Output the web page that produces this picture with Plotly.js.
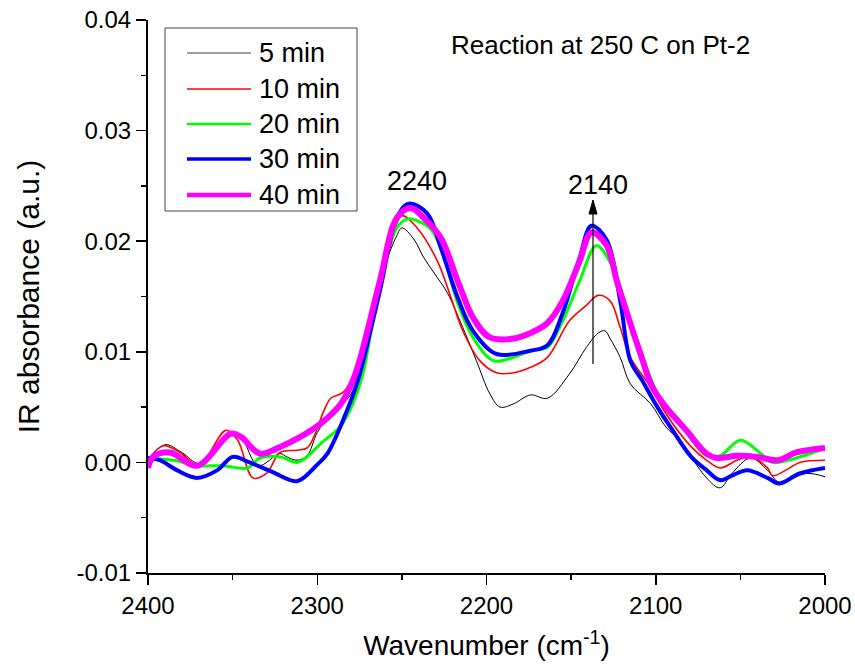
<!DOCTYPE html>
<html>
<head>
<meta charset="utf-8">
<script src="https://cdn.plot.ly/plotly-3.0.1.min.js"></script>
<style>html,body{margin:0;padding:0;background:#fff;}#chart{width:855px;height:664px;}</style>
</head>
<body>
<div id="chart"></div>
<script>
// ---- data ----
const seriesNames = ["5 min", "10 min", "20 min", "30 min", "40 min"];

const wn5  = [2400,2390,2380,2370,2360,2352,2345,2335,2322,2318,2312,2306,2300,2292,2283,2279,2270,2260,2253,2250,2243,2237,2229,2223,2214,2206,2198,2192,2184,2174,2164,2151,2141,2134,2130,2127,2121,2115,2103,2094,2086,2070,2062,2055,2044,2034,2027,2011,2000];
const abs5 = [0.0002,0.0016,0.0009,-0.0001,0.0011,0.0027,0.0023,-0.0003,0.0008,0.0005,0.0002,0.0006,0.0027,0.0044,0.0056,0.0065,0.0119,0.0178,0.0205,0.0212,0.0202,0.0185,0.0167,0.0153,0.0122,0.0092,0.0062,0.0050,0.0053,0.0061,0.0058,0.0080,0.0104,0.0117,0.0119,0.0112,0.0095,0.0071,0.0053,0.0032,0.0020,-0.0014,-0.0023,-0.0010,0.0004,-0.0007,-0.0018,-0.0010,-0.0013];

const wn10  = [2400,2391,2381,2370,2354,2347,2338,2330,2322,2312,2306,2302,2296,2292,2285,2280,2267,2257,2250,2241,2229,2221,2214,2204,2194,2184,2174,2164,2151,2141,2134,2127,2121,2115,2103,2094,2079,2070,2062,2052,2044,2034,2031,2023,2015,2000];
const abs10 = [0.0002,0.0015,0.0009,-0.0003,0.0029,0.0020,-0.0014,-0.0010,0.0009,0.0011,0.0013,0.0023,0.0047,0.0058,0.0063,0.0074,0.0135,0.0194,0.0223,0.0212,0.0182,0.0149,0.0119,0.0092,0.0081,0.0081,0.0086,0.0095,0.0128,0.0142,0.0151,0.0146,0.0122,0.0095,0.0068,0.0044,0.0014,0.0002,-0.0005,0.0002,0.0005,-0.0005,-0.0012,-0.0007,0.0000,0.0002];

const wn20  = [2400,2397,2385,2371,2356,2341,2334,2322,2312,2306,2298,2286,2279,2273,2263,2253,2247,2240,2233,2227,2217,2208,2196,2184,2174,2164,2155,2145,2135,2125,2115,2096,2086,2080,2070,2062,2050,2038,2031,2017,2000];
const abs20 = [-0.0005,0.0002,0.0002,-0.0003,-0.0003,-0.0005,0.0004,0.0005,0.0000,0.0005,0.0017,0.0033,0.0053,0.0080,0.0164,0.0212,0.0220,0.0218,0.0211,0.0194,0.0144,0.0113,0.0092,0.0095,0.0101,0.0104,0.0128,0.0164,0.0196,0.0175,0.0128,0.0053,0.0038,0.0023,0.0006,0.0006,0.0020,0.0008,0.0000,0.0004,0.0013];

const wn30  = [2400,2393,2383,2371,2359,2350,2340,2326,2312,2300,2294,2284,2276,2263,2253,2246,2235,2227,2217,2208,2194,2174,2164,2155,2145,2138,2129,2121,2115,2108,2099,2090,2079,2070,2062,2055,2046,2034,2027,2015,2000];
const abs30 = [0.0004,0.0002,-0.0007,-0.0014,-0.0007,0.0005,0.0000,-0.0009,-0.0017,-0.0002,0.0008,0.0041,0.0074,0.0155,0.0221,0.0234,0.0225,0.0194,0.0149,0.0119,0.0098,0.0101,0.0106,0.0135,0.0185,0.0214,0.0201,0.0146,0.0092,0.0074,0.0050,0.0029,0.0005,-0.0007,-0.0016,-0.0012,-0.0007,-0.0014,-0.0019,-0.0010,-0.0005];

const wn40  = [2400,2397,2387,2371,2351,2345,2334,2322,2310,2298,2286,2279,2275,2263,2253,2245,2237,2227,2217,2208,2198,2184,2174,2164,2155,2145,2138,2129,2123,2117,2109,2102,2094,2082,2070,2064,2052,2040,2028,2017,2000];
const abs40 = [-0.0005,0.0005,0.0009,-0.0003,0.0026,0.0023,0.0008,0.0014,0.0023,0.0035,0.0053,0.0074,0.0092,0.0164,0.0221,0.0230,0.0221,0.0203,0.0164,0.0131,0.0113,0.0112,0.0117,0.0126,0.0146,0.0182,0.0208,0.0196,0.0164,0.0135,0.0098,0.0068,0.0050,0.0029,0.0008,0.0004,0.0006,0.0005,0.0002,0.0009,0.0013];

const yTickVals = [-0.01, 0.00, 0.01, 0.02, 0.03, 0.04];
const yTickText = ["-0.01", "0.00", "0.01", "0.02", "0.03", "0.04"];
const xTickVals = [2400, 2300, 2200, 2100, 2000];
const xTickText = ["2400", "2300", "2200", "2100", "2000"];

const peakLabels = ["2240", "2140"];
const chartNote = "Reaction at 250 C on Pt-2";

// ---- styling ----
const colors = ["#000000", "#ff0000", "#00ff00", "#0000ff", "#ff00ff"];
const widths = [1, 1.6, 3, 4, 6];
const xs = [wn5, wn10, wn20, wn30, wn40];
const ys = [abs5, abs10, abs20, abs30, abs40];

const FONT = "Liberation Sans, Arial, sans-serif";
const M = {l: 148, r: 30, t: 20, b: 91};
const W = 855, H = 664;
const pw = W - M.l - M.r, ph = H - M.t - M.b;
const px = v => (v - M.l) / pw;        // pixel -> paper x
const py = v => (H - M.b - v) / ph;     // pixel -> paper y

const traces = seriesNames.map((n, i) => ({
  x: xs[i], y: ys[i], name: n, type: "scatter", mode: "lines",
  line: {color: colors[i], width: widths[i], shape: "spline", smoothing: 1},
  showlegend: false, hoverinfo: "skip"
}));

// custom legend box (matches the long legend lines of the reference)
const shapes = [{
  type: "rect", xref: "paper", yref: "paper",
  x0: px(165), x1: px(357), y0: py(211), y1: py(28),
  line: {color: "#444", width: 1}, fillcolor: "rgba(255,255,255,0)"
}];
const annotations = [];
const legY = [53, 89, 124, 159, 195];
const legW = [1.3, 1.6, 2.5, 3.5, 4.5];
seriesNames.forEach((n, i) => {
  shapes.push({type: "line", xref: "paper", yref: "paper",
    x0: px(187), x1: px(251), y0: py(legY[i]), y1: py(legY[i]),
    line: {color: i === 0 ? "#808080" : colors[i], width: legW[i]}});
  annotations.push({xref: "paper", yref: "paper", x: px(257), y: py(legY[i]),
    xanchor: "left", yanchor: "middle", text: n, showarrow: false,
    font: {family: FONT, size: 27, color: "#000"}});
});

annotations.push({xref: "paper", yref: "paper", x: px(600), y: py(45),
  text: chartNote, showarrow: false, xanchor: "center", yanchor: "middle",
  font: {family: FONT, size: 26, color: "#000"}});
annotations.push({x: 2241, y: 0.0254, text: peakLabels[0], showarrow: false,
  xanchor: "center", yanchor: "middle", font: {family: FONT, size: 27, color: "#000"}});
annotations.push({x: 2134, y: 0.0251, text: peakLabels[1], showarrow: false,
  xanchor: "center", yanchor: "middle", font: {family: FONT, size: 27, color: "#000"}});
// vertical arrow at the 2140 band (stem + filled head)
shapes.push({type: "line", xref: "paper", yref: "paper", x0: px(593), x1: px(593), y0: py(364), y1: py(210),
  line: {color: "#000", width: 1.2}});
shapes.push({type: "path", xref: "paper", yref: "paper",
  path: `M ${px(593)},${py(200)} L ${px(589)},${py(214)} L ${px(597)},${py(214)} Z`,
  fillcolor: "#000", line: {color: "#000", width: 1}});

const layout = {
  width: W, height: H, margin: M,
  paper_bgcolor: "#fff", plot_bgcolor: "#fff",
  font: {family: FONT, color: "#000"},
  showlegend: false,
  xaxis: {
    range: [2400, 2000], tickvals: xTickVals, ticktext: xTickText,
    ticks: "outside", ticklen: 10, tickwidth: 1.5, tickcolor: "#000",
    minor: {dtick: 50, tick0: 2000, ticks: "outside", ticklen: 5, tickwidth: 1.5, tickcolor: "#000"},
    showline: true, linecolor: "#000", linewidth: 2,
    showgrid: false, zeroline: false,
    tickfont: {family: FONT, size: 24, color: "#000"},
    title: {text: "Wavenumber (cm<sup>-1</sup>)", font: {family: FONT, size: 28, color: "#000"}, standoff: 18},
    automargin: false
  },
  yaxis: {
    range: [-0.01, 0.04], tickvals: yTickVals, ticktext: yTickText,
    ticks: "outside", ticklen: 10, tickwidth: 1.5, tickcolor: "#000",
    minor: {dtick: 0.005, tick0: 0, ticks: "outside", ticklen: 5, tickwidth: 1.5, tickcolor: "#000"},
    showline: true, linecolor: "#000", linewidth: 2,
    showgrid: false, zeroline: false,
    tickfont: {family: FONT, size: 24, color: "#000"},
    title: {text: "IR absorbance (a.u.)", font: {family: FONT, size: 30, color: "#000"}, standoff: 28},
    automargin: false
  },
  shapes: shapes,
  annotations: annotations
};

Plotly.newPlot("chart", traces, layout, {staticPlot: true, displayModeBar: false});
</script>
</body>
</html>
